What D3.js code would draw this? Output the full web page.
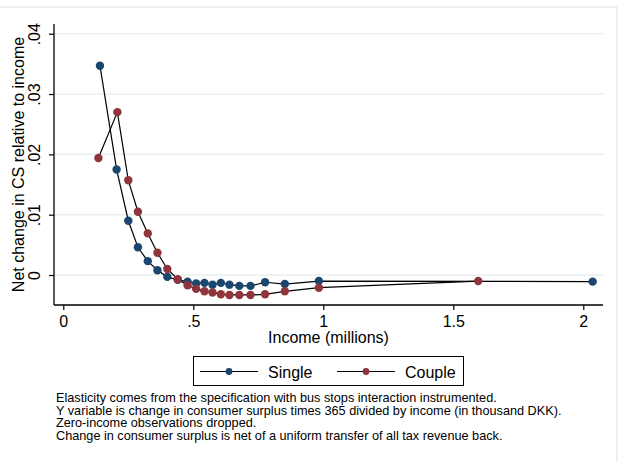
<!DOCTYPE html>
<html>
<head>
<meta charset="utf-8">
<script src="https://cdn.jsdelivr.net/npm/d3@7"></script>
<style>
  body { margin: 0; background: #fff; }
  svg text { font-family: "Liberation Sans", Arial, sans-serif; fill: #000; }
</style>
</head>
<body>
<div id="chart"></div>
<script>
// values
const singleIncome = [0.141, 0.205, 0.250, 0.287, 0.325, 0.362, 0.400, 0.440, 0.478, 0.511, 0.543, 0.574, 0.606, 0.639, 0.677, 0.720, 0.776, 0.852, 0.983, 2.036];
const singleValue = [0.0347, 0.0175, 0.0090, 0.0046, 0.0023, 0.0008, -0.0003, -0.0008, -0.0011, -0.0014, -0.0013, -0.0016, -0.0013, -0.0016, -0.0018, -0.0018, -0.0012, -0.0015, -0.0010, -0.0011];
const coupleIncome = [0.135, 0.208, 0.250, 0.287, 0.325, 0.362, 0.400, 0.440, 0.478, 0.511, 0.543, 0.574, 0.606, 0.639, 0.677, 0.720, 0.776, 0.852, 0.983, 1.596];
const coupleValue = [0.0194, 0.0270, 0.0157, 0.0105, 0.0069, 0.0037, 0.0010, -0.0007, -0.0017, -0.0023, -0.0027, -0.0029, -0.0032, -0.0033, -0.0033, -0.0033, -0.0032, -0.0027, -0.0021, -0.0010];

const xTicks = [0, 0.5, 1, 1.5, 2];
const xTickLabels = ["0", ".5", "1", "1.5", "2"];
const yTicks = [0, 0.01, 0.02, 0.03, 0.04];
const yTickLabels = ["0", ".01", ".02", ".03", ".04"];

const seriesNames = ["Single", "Couple"];
const seriesColors = ["#1a476f", "#90353b"];

const notes = [
  "Elasticity comes from the specification with bus stops interaction instrumented.",
  "Y variable is change in consumer surplus times 365 divided by income (in thousand DKK).",
  "Zero-income observations dropped.",
  "Change in consumer surplus is net of a uniform transfer of all tax revenue back."
];

const width = 619, height = 462;
const plot = { left: 54, right: 603, top: 24, bottom: 305 };

const svg = d3.select("#chart").append("svg")
  .attr("width", width)
  .attr("height", height);

svg.append("rect").attr("width", width).attr("height", height).attr("fill", "#fff");
// faint outer frame of the graph region
svg.append("rect")
  .attr("x", -1).attr("y", 7).attr("width", 618).attr("height", 470)
  .attr("fill", "none").attr("stroke", "#e6edf0").attr("stroke-width", 1.5);

const x = d3.scaleLinear().domain([0, 2]).range([63.3, 583.3]);
const y = d3.scaleLinear().domain([-0.00497, 0.04161]).range([plot.bottom, plot.top]);

// gridlines
svg.append("g").selectAll("line")
  .data(yTicks)
  .join("line")
  .attr("x1", plot.left).attr("x2", plot.right)
  .attr("y1", d => y(d)).attr("y2", d => y(d))
  .attr("stroke", "#e8f0f2").attr("stroke-width", 1.5);

// axes
const xAxis = svg.append("g")
  .attr("transform", `translate(0,${plot.bottom})`)
  .call(d3.axisBottom(x).tickValues(xTicks).tickFormat((d, i) => xTickLabels[i]).tickSize(5).tickPadding(5));
xAxis.select(".domain").remove();
xAxis.selectAll("line").attr("stroke", "#000").attr("stroke-width", 1.2);
xAxis.selectAll("text").attr("font-size", 16).attr("font-family", "Liberation Sans, Arial, sans-serif").attr("dy", null).attr("y", 22);

const yAxis = svg.append("g")
  .attr("transform", `translate(${plot.left},0)`)
  .call(d3.axisLeft(y).tickValues(yTicks).tickFormat((d, i) => yTickLabels[i]).tickSize(5));
yAxis.select(".domain").remove();
yAxis.selectAll("line").attr("stroke", "#000").attr("stroke-width", 1.2);
yAxis.selectAll("text")
  .attr("font-size", 16).attr("font-family", "Liberation Sans, Arial, sans-serif")
  .attr("x", null).attr("dy", null)
  .attr("text-anchor", "middle")
  .attr("transform", "translate(-14,0) rotate(-90)");

svg.append("line")
  .attr("x1", plot.left).attr("x2", plot.right)
  .attr("y1", plot.bottom).attr("y2", plot.bottom)
  .attr("stroke", "#000").attr("stroke-width", 1.3);
svg.append("line")
  .attr("x1", plot.left).attr("x2", plot.left)
  .attr("y1", plot.top).attr("y2", plot.bottom)
  .attr("stroke", "#000").attr("stroke-width", 1.3);

// axis titles
svg.append("text")
  .attr("x", (plot.left + plot.right) / 2).attr("y", 343)
  .attr("text-anchor", "middle").attr("font-size", 16)
  .text("Income (millions)");
svg.append("text")
  .attr("transform", `translate(23.5,${(plot.top + plot.bottom) / 2}) rotate(-90)`)
  .attr("text-anchor", "middle").attr("font-size", 16)
  .text("Net change in CS relative to income");

// series
const series = [
  singleIncome.map((d, i) => ({ x: d, y: singleValue[i] })),
  coupleIncome.map((d, i) => ({ x: d, y: coupleValue[i] }))
];

const line = d3.line().x(d => x(d.x)).y(d => y(d.y));

series.forEach((data, k) => {
  const g = svg.append("g");
  g.append("path")
    .datum(data)
    .attr("d", line)
    .attr("fill", "none")
    .attr("stroke", "#000")
    .attr("stroke-width", 1.2);
  g.selectAll("circle")
    .data(data)
    .join("circle")
    .attr("cx", d => x(d.x))
    .attr("cy", d => y(d.y))
    .attr("r", 4.2)
    .attr("fill", seriesColors[k]);
});

// legend
const legend = svg.append("g");
legend.append("rect")
  .attr("x", 193.5).attr("y", 356.5).attr("width", 270).attr("height", 29)
  .attr("fill", "#fff").attr("stroke", "#000").attr("stroke-width", 1);
const legendX = [200, 337];
seriesNames.forEach((name, k) => {
  const lx = legendX[k];
  legend.append("line")
    .attr("x1", lx).attr("x2", lx + 58)
    .attr("y1", 371.5).attr("y2", 371.5)
    .attr("stroke", "#000").attr("stroke-width", 1.2);
  legend.append("circle")
    .attr("cx", lx + 29).attr("cy", 371.5).attr("r", 3.4)
    .attr("fill", seriesColors[k]);
  legend.append("text")
    .attr("x", lx + 68).attr("y", 377.5)
    .attr("font-size", 16)
    .text(name);
});

// notes
svg.append("g").selectAll("text")
  .data(notes)
  .join("text")
  .attr("x", 56)
  .attr("y", (d, i) => 402 + i * 12.7)
  .attr("font-size", 12.7)
  .text(d => d);
</script>
</body>
</html>
